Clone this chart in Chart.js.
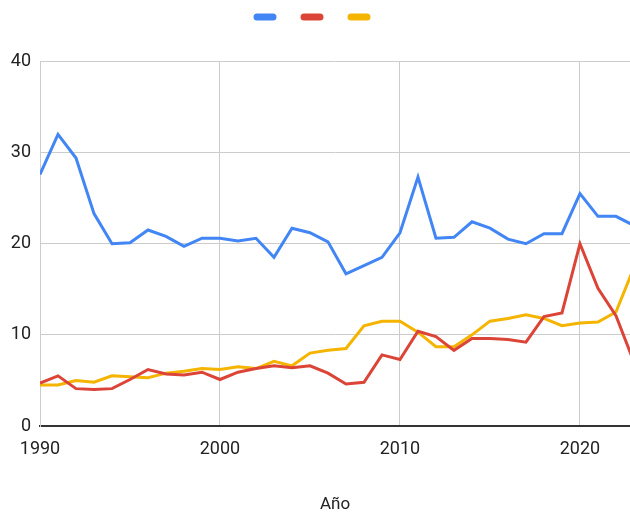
<!DOCTYPE html>
<html>
<head>
<meta charset="utf-8">
<script src="https://cdn.jsdelivr.net/npm/chart.js@4/dist/chart.umd.min.js"></script>
<style>
  html, body { margin: 0; padding: 0; background: #fff; }
  #wrap { width: 630px; height: 513px; }
</style>
</head>
<body>
<div id="wrap"><canvas id="chart"></canvas></div>
<script>
// Data
const years = [1990, 1991, 1992, 1993, 1994, 1995, 1996, 1997, 1998, 1999,
  2000, 2001, 2002, 2003, 2004, 2005, 2006, 2007, 2008, 2009,
  2010, 2011, 2012, 2013, 2014, 2015, 2016, 2017, 2018, 2019,
  2020, 2021, 2022, 2023];
const blueSeries = [27.6, 32.0, 29.4, 23.3, 20.0, 20.1, 21.5, 20.8, 19.7, 20.6,
  20.6, 20.3, 20.6, 18.5, 21.7, 21.2, 20.2, 16.7, 17.6, 18.5,
  21.2, 27.3, 20.6, 20.7, 22.4, 21.7, 20.5, 20.0, 21.1, 21.1,
  25.5, 23.0, 23.0, 22.0];
const redSeries = [4.7, 5.5, 4.1, 4.0, 4.1, 5.1, 6.2, 5.7, 5.6, 5.9,
  5.1, 5.9, 6.3, 6.6, 6.4, 6.6, 5.8, 4.6, 4.8, 7.8,
  7.3, 10.4, 9.8, 8.3, 9.6, 9.6, 9.5, 9.2, 12.0, 12.4,
  20.0, 15.1, 12.1, 7.0];
const yellowSeries = [4.5, 4.5, 5.0, 4.8, 5.5, 5.4, 5.3, 5.8, 6.0, 6.3,
  6.2, 6.5, 6.3, 7.1, 6.6, 8.0, 8.3, 8.5, 11.0, 11.5,
  11.5, 10.3, 8.7, 8.7, 10.0, 11.5, 11.8, 12.2, 11.8, 11.0,
  11.3, 11.4, 12.5, 17.4];
const xTicks = [1990, 2000, 2010, 2020];
const yTicks = [0, 10, 20, 30, 40];

const colors = { blue: '#4285f4', red: '#db4437', yellow: '#f4b400' };

function toPoints(values) {
  return years.map((y, i) => ({ x: y, y: values[i] }));
}

function makeDataset(values, color) {
  return {
    label: '',
    data: toPoints(values),
    borderColor: color,
    backgroundColor: color,
    borderWidth: 3,
    pointRadius: 0,
    tension: 0
  };
}

const ctx = document.getElementById('chart').getContext('2d');
new Chart(ctx, {
  type: 'line',
  data: {
    datasets: [
      makeDataset(blueSeries, colors.blue),
      makeDataset(redSeries, colors.red),
      makeDataset(yellowSeries, colors.yellow)
    ]
  },
  options: {
    responsive: true,
    maintainAspectRatio: false,
    animation: false,
    layout: { padding: { top: -10, right: 0, left: 0, bottom: 0 } },
    font: { family: 'Roboto' },
    scales: {
      x: {
        type: 'linear',
        min: 1990,
        max: 2022.78,
        afterBuildTicks: (scale) => {
          scale.ticks = xTicks.map(v => ({ value: v }));
        },
        afterFit: (scale) => { scale.height = 87; },
        ticks: {
          color: '#222',
          font: { family: 'Roboto', size: 18 },
          padding: 13,
          maxRotation: 0,
          callback: (value) => String(value)
        },
        grid: { color: '#cccccc', drawTicks: false },
        border: { color: '#333333', width: 2 },
        title: {
          display: true,
          text: 'Año',
          color: '#222',
          font: { family: 'Roboto', size: 17 },
          padding: { top: 31, bottom: -2 }
        }
      },
      y: {
        min: 0,
        max: 40,
        afterBuildTicks: (scale) => {
          scale.ticks = yTicks.map(v => ({ value: v }));
        },
        afterFit: (scale) => { scale.width = 40; },
        ticks: {
          color: '#222',
          font: { family: 'Roboto', size: 18 },
          padding: 9
        },
        grid: { color: '#cccccc', drawTicks: false },
        border: { color: '#cccccc', width: 1 }
      }
    },
    plugins: {
      legend: {
        position: 'top',
        labels: {
          boxWidth: 20,
          boxHeight: 4,
          padding: 21,
          useBorderRadius: true,
          borderRadius: 2,
          font: { size: 12 }
        }
      },
      // empty subtitle used as a spacer between legend and plot
      subtitle: {
        display: true,
        text: '',
        position: 'top',
        weight: 500,
        font: { size: 12 },
        padding: 7
      },
      tooltip: { enabled: false }
    }
  }
});
</script>
</body>
</html>
